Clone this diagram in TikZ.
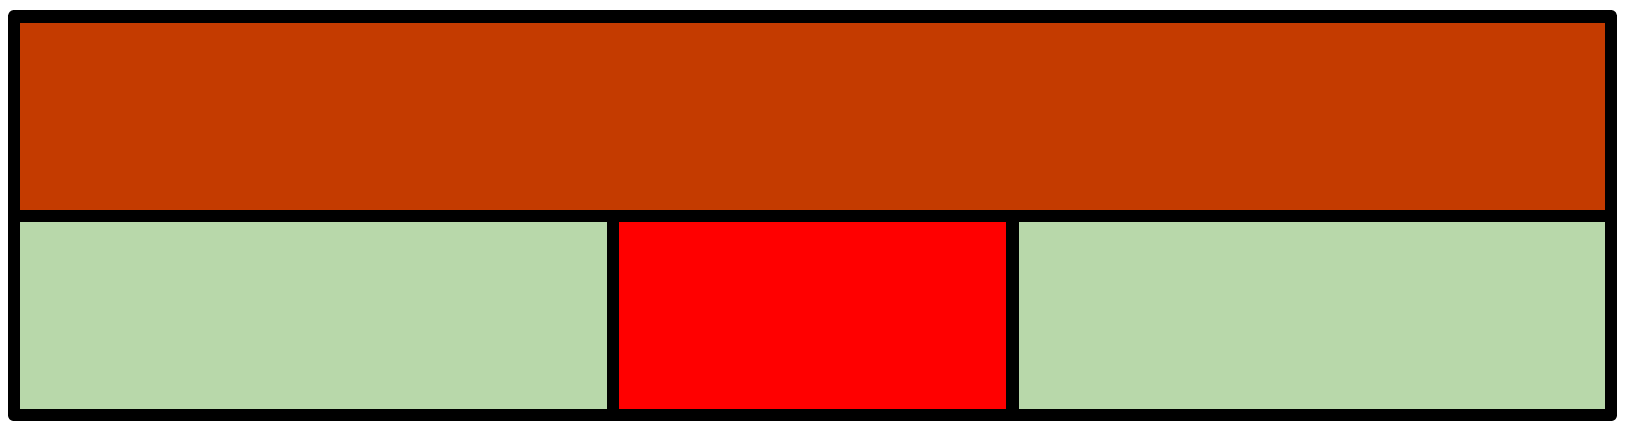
\documentclass[tikz,border=0pt]{standalone}
\definecolor{brickred}{RGB}{196,59,0}
\definecolor{palegreen}{RGB}{184,216,170}
\definecolor{brightred}{RGB}{255,0,0}
\tikzset{cell/.style={draw=black, line width=9.5pt, line join=round, line cap=round}}
\begin{document}
\begin{tikzpicture}[x=0.75pt,y=0.75pt,yscale=-1,xscale=1]
\useasboundingbox (0,0) rectangle (1626,436);
% top band
\draw [cell, fill=brickred] (14,16.5) rectangle (1611,216) ;
% bottom row
\draw [cell, fill=palegreen] (14,216) rectangle (613,415) ;
\draw [cell, fill=brightred] (613,216) rectangle (1012.5,415) ;
\draw [cell, fill=palegreen] (1012.5,216) rectangle (1611,415) ;

\end{tikzpicture}
\end{document}
